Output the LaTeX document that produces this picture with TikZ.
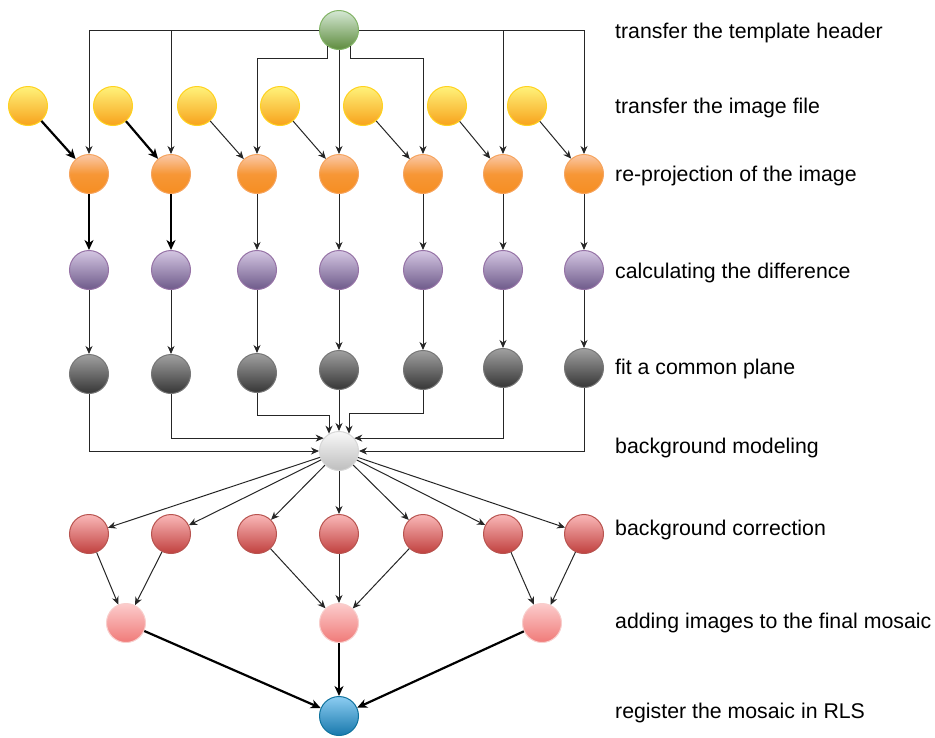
\documentclass[tikz,border=0pt]{standalone}
\usepackage{fontspec}
\setmainfont{Liberation Sans}
\usetikzlibrary{arrows.meta,calc}
\definecolor{gTop}{HTML}{D5E8D4}\definecolor{gBot}{HTML}{5E8C3E}\definecolor{gLine}{HTML}{82B366}
\definecolor{yTop}{HTML}{FFF27A}\definecolor{yBot}{HTML}{F7A21B}\definecolor{yLine}{HTML}{FFD21F}
\definecolor{oTop}{HTML}{FAC8A8}\definecolor{oBot}{HTML}{F68E22}\definecolor{oLine}{HTML}{F6A45E}
\definecolor{pTop}{HTML}{D4C6E2}\definecolor{pBot}{HTML}{6E5A8A}\definecolor{pLine}{HTML}{9673A6}
\definecolor{kTop}{HTML}{A0A0A0}\definecolor{kBot}{HTML}{363636}\definecolor{kLine}{HTML}{777777}
\definecolor{wTop}{HTML}{F8F8F8}\definecolor{wBot}{HTML}{BEBEBE}\definecolor{wLine}{HTML}{D6D6D6}
\definecolor{rTop}{HTML}{FAB8B8}\definecolor{rBot}{HTML}{C0403E}\definecolor{rLine}{HTML}{B85450}
\definecolor{sTop}{HTML}{FCCCCC}\definecolor{sBot}{HTML}{F07A78}\definecolor{sLine}{HTML}{F8CECC}
\definecolor{bTop}{HTML}{8CCDF2}\definecolor{bBot}{HTML}{1878AC}\definecolor{bLine}{HTML}{10739E}
\begin{document}
\begin{tikzpicture}[x=1pt,y=-1pt,
  ball/.style={circle,minimum size=39pt,inner sep=0pt,line width=1pt},
  gball/.style={ball,draw=gLine,top color=gTop,bottom color=gBot},
  yball/.style={ball,draw=yLine,top color=yTop,bottom color=yBot},
  oball/.style={ball,draw=oLine,top color=oTop,bottom color=oBot,middle color=oBot!85!oTop},
  pball/.style={ball,draw=pLine,top color=pTop,bottom color=pBot},
  kball/.style={ball,draw=kLine,top color=kTop,bottom color=kBot},
  wball/.style={ball,draw=wLine,top color=wTop,bottom color=wBot},
  rball/.style={ball,draw=rLine,top color=rTop,bottom color=rBot},
  sball/.style={ball,draw=sLine,top color=sTop,bottom color=sBot},
  bball/.style={ball,draw=bLine,top color=bTop,bottom color=bBot},
  arr/.style={draw=black!85,line width=1pt,-{Stealth[length=8pt,width=7pt,inset=2.5pt]}},
  tarr/.style={draw=black,line width=2.2pt,-{Stealth[length=10pt,width=9pt,inset=3pt]}},
  lbl/.style={anchor=west,inner sep=0pt,font=\fontsize{21.3}{25}\selectfont}
]
\useasboundingbox (0,0) rectangle (935,737);
% nodes
\node[gball] (g) at (339,30) {};
\foreach \i/\x in {1/28,2/113,3/197,4/280,5/363,6/447,7/527}
  \node[yball] (y\i) at (\x,106) {};
\foreach \i/\x in {1/89,2/171,3/257,4/339,5/423,6/503,7/584}
  \node[oball] (o\i) at (\x,174) {};
\foreach \i/\x in {1/89,2/171,3/257,4/339,5/423,6/503,7/584}
  \node[pball] (p\i) at (\x,270) {};
\foreach \i/\x/\yy in {1/89/374,2/171/374,3/257/373,4/339/370,5/423/370,6/503/368,7/584/368}
  \node[kball] (k\i) at (\x,\yy) {};
\node[wball] (bg) at (339,451) {};
\foreach \i/\x in {1/89,2/171,3/257,4/339,5/423,6/503,7/584}
  \node[rball] (r\i) at (\x,534) {};
\node[sball] (s1) at (126,623) {};
\node[sball] (s2) at (339,623) {};
\node[sball] (s3) at (542,623) {};
\node[bball] (b) at (339,716) {};
% green connectors
\draw[arr] (g) -| (o1);
\draw[arr] (g) -| (o2);
\draw[arr] (g.235) |- (o3 |- 0,58) -- (o3);
\draw[arr] (g) -- (o4);
\draw[arr] (g.305) |- (o5 |- 0,58) -- (o5);
\draw[arr] (g) -| (o6);
\draw[arr] (g) -| (o7);
% yellow -> orange
\draw[tarr] (y1) -- (o1);
\draw[tarr] (y2) -- (o2);
\foreach \i in {3,...,7} \draw[arr] (y\i) -- (o\i);
% orange -> purple
\draw[tarr] (o1) -- (p1);
\draw[tarr] (o2) -- (p2);
\foreach \i in {3,...,7} \draw[arr] (o\i) -- (p\i);
% purple -> gray
\foreach \i in {1,...,7} \draw[arr] (p\i) -- (k\i);
% gray -> background
\draw[arr] (k1) |- (bg);
\draw[arr] (k2) |- (bg.140);
\draw[arr] (k3) |- (bg.120 |- 0,415) -- (bg.120);
\draw[arr] (k4) -- (bg);
\draw[arr] (k5) |- (bg.60 |- 0,413) -- (bg.60);
\draw[arr] (k6) |- (bg.40);
\draw[arr] (k7) |- (bg);
% background -> red
\foreach \i in {1,...,7} \draw[arr] (bg) -- (r\i);
% red -> pink
\draw[arr] (r1) -- (s1);
\draw[arr] (r2) -- (s1);
\draw[arr] (r3) -- (s2);
\draw[arr] (r4) -- (s2);
\draw[arr] (r5) -- (s2);
\draw[arr] (r6) -- (s3);
\draw[arr] (r7) -- (s3);
% pink -> blue
\foreach \i in {1,2,3} \draw[tarr] (s\i) -- (b);
% labels
\node[lbl] (l1) at (615,33) {transfer the template header};
\node[lbl] (l2) at (615,108) {transfer the image file};
\node[lbl] (l3) at (615,176) {re-projection of the image};
\node[lbl] (l4) at (615,273) {calculating the difference};
\node[lbl] (l5) at (615,369) {fit a common plane};
\node[lbl] (l6) at (615,448) {background modeling};
\node[lbl] (l7) at (615,530) {background correction};
\node[lbl] (l8) at (615,623) {adding images to the final mosaic};
\node[lbl] (l9) at (615,713) {register the mosaic in RLS};
\end{tikzpicture}
\end{document}
